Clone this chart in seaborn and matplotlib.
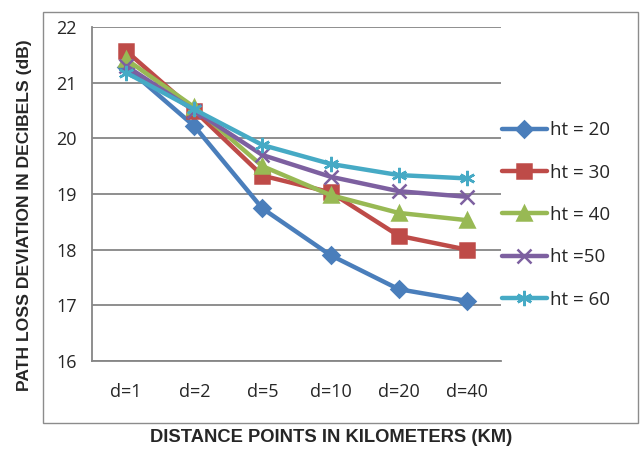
import matplotlib
matplotlib.use("Agg")
import matplotlib.pyplot as plt
import seaborn as sns
import pandas as pd
from matplotlib.patches import Rectangle
from matplotlib.ticker import FixedLocator

distances = ["d=1", "d=2", "d=5", "d=10", "d=20", "d=40"]
ht20 = [21.28, 20.22, 18.74, 17.90, 17.29, 17.08]
ht30 = [21.57, 20.50, 19.33, 19.03, 18.25, 18.00]
ht40 = [21.42, 20.56, 19.50, 18.98, 18.66, 18.53]
ht50 = [21.30, 20.50, 19.70, 19.31, 19.05, 18.95]
ht60 = [21.18, 20.52, 19.88, 19.54, 19.34, 19.28]
series_labels = ["ht = 20", "ht = 30", "ht = 40", "ht =50", "ht = 60"]
yticks = [16, 17, 18, 19, 20, 21, 22]

colors = ["#4A7EBB", "#BE4B48", "#98B954", "#7D60A0", "#46AAC5"]
marker_list = ["D", "s", "^", "x", (6, 2, 0)]
msizes = [8.5, 9.5, 9.5, 10, 11]

sns.set_style("white")
plt.rcParams["font.family"] = ["Open Sans", "DejaVu Sans"]

fig = plt.figure(figsize=(6.43, 4.5), dpi=100)
ax = fig.add_axes([92/643, 1-361/450, (501-92)/643, (361-27)/450])

for lab, vals, c, m, ms in zip(series_labels, [ht20, ht30, ht40, ht50, ht60],
                               colors, marker_list, msizes):
    df = pd.DataFrame({"distance": distances, "value": vals})
    sns.lineplot(data=df, x="distance", y="value", sort=False, color=c,
                 marker=m, markersize=ms, markeredgewidth=1.8, markeredgecolor=c,
                 markerfacecolor=c, linewidth=3.2, label=lab, ax=ax)

ax.set_xlim(-0.5, 5.5)
ax.set_ylim(16, 22)
ax.set_yticks(yticks)
ax.set_yticklabels([str(t) for t in yticks])
ax.set_xticks(range(len(distances)))
ax.set_xticklabels(distances)
ax.xaxis.set_minor_locator(FixedLocator([i - 0.5 for i in range(len(distances) + 1)]))
ax.tick_params(axis="x", which="major", length=0, pad=16, labelsize=13, labelcolor="#262626")
ax.tick_params(axis="x", which="minor", length=6, width=1.2, color="#868686", direction="out")
ax.tick_params(axis="y", which="major", length=5, width=1.2, color="#868686", direction="out",
               pad=6, labelsize=13, labelcolor="#262626")
ax.grid(axis="y", color="#868686", linewidth=1.3)
ax.set_axisbelow(True)
for s in ["top", "right"]:
    ax.spines[s].set_visible(False)
for s in ["left", "bottom"]:
    ax.spines[s].set_color("#868686")
    ax.spines[s].set_linewidth(1.3)
ax.set_xlabel("")
ax.set_ylabel("")

handles, labels = ax.get_legend_handles_labels()
ax.get_legend().remove()
fig.legend(handles, labels, loc="center left", bbox_to_anchor=(502/643, 1-215/450),
           bbox_transform=fig.transFigure, frameon=False, fontsize=13.5,
           labelspacing=1.3, handlelength=2.4, handletextpad=0.15, borderpad=0,
           borderaxespad=0)

fig.text(331/643, 1-438/450, "DISTANCE POINTS IN KILOMETERS (KM)", ha="center", va="center",
         fontsize=13.2, fontweight="bold", family="Liberation Sans", color="#262626")
fig.text(25/643, 1-215/450, "PATH LOSS DEVIATION IN DECIBELS (dB)", ha="center", va="center",
         rotation=90, fontsize=12.6, fontweight="bold", family="Liberation Sans", color="#262626")

fig.patches.append(Rectangle((43/643, 1-423/450), (638-43)/643, (423-12)/450,
                             transform=fig.transFigure, fill=False,
                             edgecolor="#8c8c8c", linewidth=1.0))

fig.savefig("out.png", dpi=100)
